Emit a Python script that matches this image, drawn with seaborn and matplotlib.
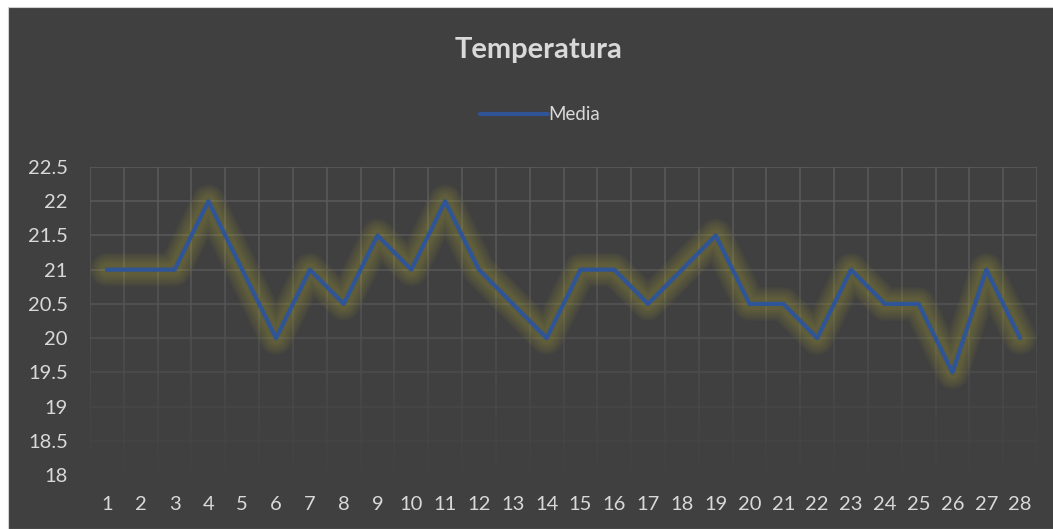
import numpy as np
import pandas as pd
import matplotlib
matplotlib.use('Agg')
import matplotlib.pyplot as plt
from matplotlib.patches import Rectangle
import seaborn as sns

# Data
dias = list(range(1, 29))
media = [21, 21, 21, 22, 21, 20, 21, 20.5, 21.5, 21,
         22, 21, 20.5, 20, 21, 21, 20.5, 21, 21.5, 20.5,
         20.5, 20, 21, 20.5, 20.5, 19.5, 21, 20]
y_ticks = [18, 18.5, 19, 19.5, 20, 20.5, 21, 21.5, 22, 22.5]

df = pd.DataFrame({'dia': dias, 'media': media})

BG = '#404040'
TXT = '#d9d9d9'
GRID = '#5c5c5c'
LINE = '#2f5597'
GLOW = '#b0a838'

sns.set_theme(style='dark')
plt.rcParams['font.family'] = ['Lato', 'DejaVu Sans']

fig = plt.figure(figsize=(10.53, 5.29), dpi=100)
fig.patch.set_facecolor('white')
# dark chart area, leaving thin white strip top/left
fig.patches.append(Rectangle((8 / 1053, 0), 1, 1 - 7 / 529, transform=fig.transFigure,
                             facecolor=BG, edgecolor='#d0d0d0', lw=0.8, zorder=-10))

ax = fig.add_axes([90 / 1053, 1 - 475 / 529, (1037 - 90) / 1053, (475 - 167) / 529])
ax.set_facecolor(BG)

# soft glow under the line
for w in [24, 21, 18, 15, 12, 9]:
    sns.lineplot(data=df, x='dia', y='media', ax=ax, color=GLOW, linewidth=w,
                 alpha=0.06, legend=False, zorder=2, solid_capstyle='round',
                 solid_joinstyle='round')

sns.lineplot(data=df, x='dia', y='media', ax=ax, color=LINE, linewidth=3.0,
             label='Media', zorder=4)

ax.set_xticks(dias)
ax.set_xticks([d + 0.5 for d in [0] + dias], minor=True)
ax.set_yticks(y_ticks)
ax.set_yticklabels([f'{v:g}' for v in y_ticks])

ax.grid(False)
ax.set_axisbelow(True)
ax.grid(True, which='major', axis='y', color=GRID, linewidth=1.1)
ax.grid(True, which='minor', axis='x', color=GRID, linewidth=1.1)

# fade the grid towards the bottom (row 0 = top of the plot)
grad = np.linspace(0, 1, 256).reshape(-1, 1)
c = (0.251, 0.251, 0.251)
cmap = matplotlib.colors.LinearSegmentedColormap.from_list(
    'fade', [(0.0, c + (0.0,)), (0.3, c + (0.08,)), (0.55, c + (0.4,)),
             (0.8, c + (0.75,)), (1.0, c + (0.95,))])
ax.imshow(grad, extent=(0.5, 28.5, 18, 22.5), aspect='auto', cmap=cmap,
          vmin=0, vmax=1, zorder=1, origin='upper', interpolation='bilinear')
ax.set_xlim(0.5, 28.5)
ax.set_ylim(18, 22.5)

for s in ax.spines.values():
    s.set_visible(False)

ax.tick_params(axis='both', which='both', length=0, colors=TXT, labelsize=14.5)
ax.tick_params(axis='x', pad=15)
ax.tick_params(axis='y', pad=16)
ax.set_xlabel('')
ax.set_ylabel('')

fig.text(0.511, 1 - 50 / 529, 'Temperatura', ha='center', va='center',
         fontsize=21, fontweight='bold', color=TXT)

leg = ax.legend(loc='center', bbox_to_anchor=(0.513, 1 - 115 / 529),
                bbox_transform=fig.transFigure, frameon=False, fontsize=13.5,
                handlelength=3.6, handletextpad=0.05)
for t in leg.get_texts():
    t.set_color(TXT)

fig.savefig('out.png', dpi=100, facecolor=fig.get_facecolor())
